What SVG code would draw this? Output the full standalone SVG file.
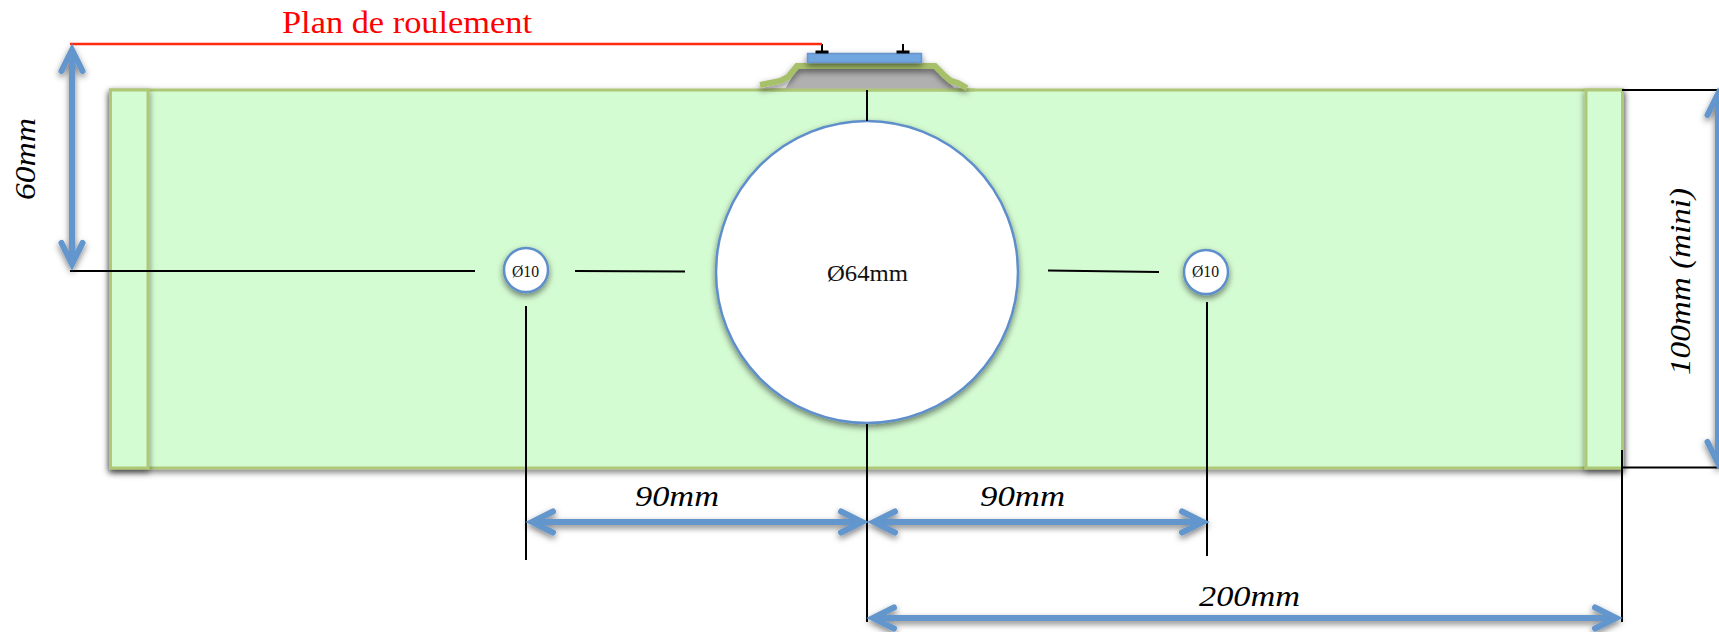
<svg xmlns="http://www.w3.org/2000/svg" width="1719" height="632" viewBox="0 0 1719 632">
<defs>
<filter id="sh" filterUnits="userSpaceOnUse" x="0" y="0" width="1719" height="632">
<feDropShadow dx="0" dy="3" stdDeviation="3" flood-color="#000" flood-opacity="0.5"/>
</filter>
<marker id="head" markerUnits="userSpaceOnUse" markerWidth="36" markerHeight="36" refX="26" refY="18" orient="auto-start-reverse" viewBox="0 0 36 36">
<path d="M6 7.500 L27 18 L6 28.500" fill="none" stroke="#6296cc" stroke-width="6" stroke-linecap="round" stroke-linejoin="miter"/>
</marker>
<style>
.beam{fill:#d4fcd2;stroke:#aec878;stroke-width:3}
.hole{fill:#fff;stroke:#5f8fcb;stroke-width:2.500}
.k{stroke:#000;stroke-width:2;fill:none}
.dim{stroke:#6296cc;stroke-width:6;fill:none;marker-start:url(#head);marker-end:url(#head)}
.t{font-family:"Liberation Serif",serif;fill:#111}
.i{font-family:"Liberation Serif",serif;font-style:italic;fill:#000;font-size:30px}
</style>
</defs>
<rect width="1719" height="632" fill="#fff"/>
<g id="beam">
<rect class="beam" x="110.500" y="90" width="1512" height="378" filter="url(#sh)"/>
<rect class="beam" x="110.500" y="90" width="37.500" height="378" filter="url(#sh)"/>
<rect class="beam" x="1586" y="90" width="36.500" height="378" filter="url(#sh)"/>
</g>
<g id="ballast">
<path d="M785 89 L798 67 L935 67 L955 89 Z" fill="#b0b0b0"/>
<path d="M770 90 H975" stroke="#aec878" stroke-width="3" fill="none"/>
<path d="M760 85 L780 81 L788 77 L797 66 L935 66 L945 76 L951 81 L958 83 L967 88" fill="none" stroke="#a7c06b" stroke-width="6" filter="url(#sh)"/>
</g>
<g id="rail" filter="url(#sh)">
<rect x="807.500" y="53.500" width="114" height="9" fill="#6fa5e0" stroke="#6a94c8" stroke-width="1.500"/>
</g>
<g id="fasteners">
<path class="k" d="M822 44 V52 M903 44 V52"/>
<path class="k" stroke-width="3" d="M815.500 52 H828.500 M896.500 52 H909.500" style="stroke-width:3"/>
</g>
<g id="hole-large">
<circle class="hole" cx="867" cy="272" r="151" filter="url(#sh)"/>
<text class="t" x="827" y="281" font-size="24" textLength="81" lengthAdjust="spacingAndGlyphs">Ø64mm</text>
</g>
<g id="hole-left">
<circle class="hole" cx="526" cy="270" r="22" filter="url(#sh)"/>
<text class="t" x="512" y="277" font-size="17" textLength="27" lengthAdjust="spacingAndGlyphs">Ø10</text>
</g>
<g id="hole-right">
<circle class="hole" cx="1206" cy="272" r="22" filter="url(#sh)"/>
<text class="t" x="1192" y="277" font-size="17" textLength="27" lengthAdjust="spacingAndGlyphs">Ø10</text>
</g>
<g id="connectors">
<path d="M70 44 H822" stroke="#ff2a10" stroke-width="2.500" fill="none"/>
<path class="k" d="M70 271 L475 271 M575 271 L685 271.500 M1048 270.500 L1159 272 M867 90 V121 M867 424 V622 M526 306 V560 M1207 302 V556 M1622 450 V622 M1622 90 H1719 M1622 467.500 H1719"/>
<g filter="url(#sh)">
<line class="dim" x1="72" y1="51" x2="72" y2="263"/>
<line class="dim" x1="533" y1="522" x2="861" y2="522"/>
<line class="dim" x1="875" y1="522" x2="1202" y2="522"/>
<line class="dim" x1="874" y1="618" x2="1615" y2="618"/>
<line class="dim" x1="1718" y1="95" x2="1718" y2="462"/>
</g>
</g>
<g id="labels">
<text x="282" y="33" font-family="Liberation Serif, serif" font-size="32" fill="#ff0000" textLength="250" lengthAdjust="spacingAndGlyphs">Plan de roulement</text>
<text class="i" x="635" y="506" textLength="84" lengthAdjust="spacingAndGlyphs">90mm</text>
<text class="i" x="980" y="506" textLength="85" lengthAdjust="spacingAndGlyphs">90mm</text>
<text class="i" x="1199" y="606" textLength="101" lengthAdjust="spacingAndGlyphs">200mm</text>
<text class="i" transform="translate(35 200) rotate(-90)" textLength="82" lengthAdjust="spacingAndGlyphs">60mm</text>
<text class="i" transform="translate(1690 375) rotate(-90)" textLength="187" lengthAdjust="spacingAndGlyphs">100mm (mini)</text>
</g>
</svg>
